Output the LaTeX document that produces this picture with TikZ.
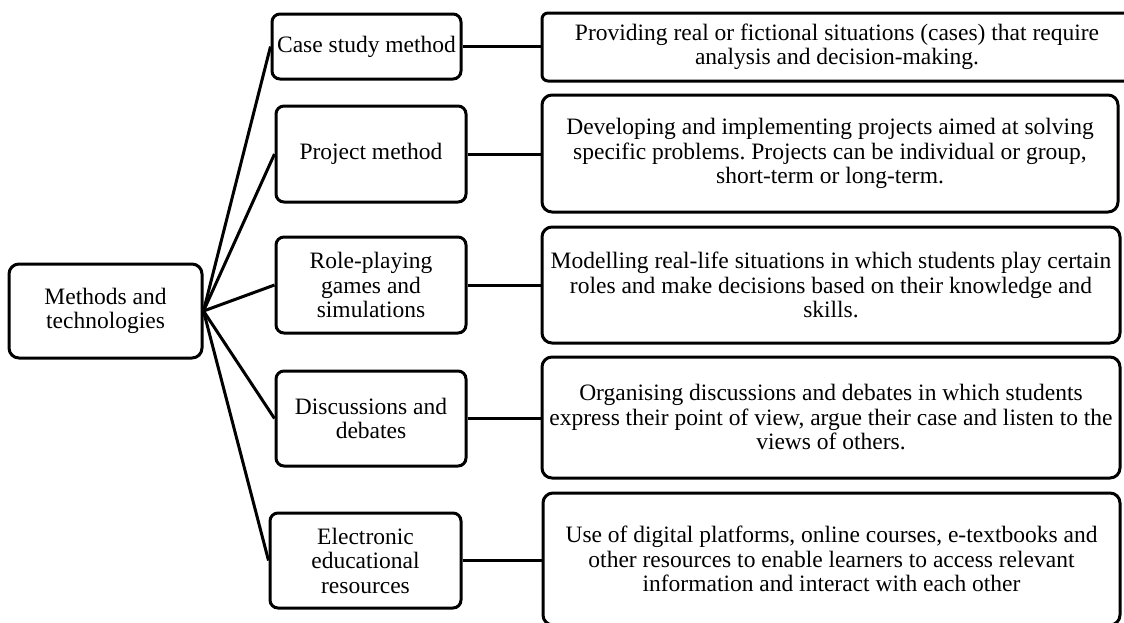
\documentclass[tikz,border=0pt]{standalone}
\usepackage{fontspec}
\setmainfont{Liberation Serif}
\begin{document}
\frenchspacing
\begin{tikzpicture}[x=1pt,y=-1pt,
  box/.style={draw, line width=3pt, rounded corners=8pt, align=center, inner sep=0pt,
    font=\fontsize{23.5}{24.5}\selectfont},
  rbox/.style={box, rounded corners=10pt},
  link/.style={line width=3pt}]
\useasboundingbox (0,0) rectangle (1124,622);
\clip (0,0) rectangle (1124,622);

\node[box, rounded corners=10pt, minimum width=193pt, minimum height=94pt] (L) at (105.5,311) {Methods and\\technologies};

\node[box, minimum width=189pt, minimum height=65pt] (M1) at (366.5,46.5) {Case study method};
\node[box, minimum width=190pt, minimum height=96pt] (M2) at (371,154) {Project method};
\node[box, minimum width=190pt, minimum height=96pt] (M3) at (371,285) {Role-playing\\games and\\simulations};
\node[box, minimum width=190pt, minimum height=95pt] (M4) at (371,418.5) {Discussions and\\debates};
\node[box, minimum width=191pt, minimum height=95pt] (M5) at (365.5,560.5) {Electronic\\educational\\resources};

\node[box, rounded corners=6pt, minimum width=590pt, minimum height=68pt] (R1) at (837,47) {Providing real or fictional situations (cases) that require\\analysis and decision-making.};
\node[rbox, minimum width=576pt, minimum height=117pt] (R2) at (830,153.5) {Developing and implementing projects aimed at solving\\specific problems. Projects can be individual or group,\\short-term or long-term.};
\node[rbox, minimum width=578pt, minimum height=116pt] (R3) at (831,285) {Modelling real-life situations in which students play certain\\roles and make decisions based on their knowledge and\\skills.};
\node[rbox, minimum width=578pt, minimum height=121pt] (R4) at (831,417.5) {Organising discussions and debates in which students\\express their point of view, argue their case and listen to the\\views of others.};
\node[rbox, minimum width=577pt, minimum height=132pt] (R5) at (831.5,559) {Use of digital platforms, online courses, e-textbooks and\\other resources to enable learners to access relevant\\information and interact with each other};

\foreach \m in {M1,M2,M3,M4,M5}{
  \draw[link] (L.east) -- (\m.west);
}
\foreach \m/\r in {M1/R1,M2/R2,M3/R3,M4/R4,M5/R5}{
  \draw[link] (\m.east) -- (\m.east -| \r.west);
}
\end{tikzpicture}
\end{document}
